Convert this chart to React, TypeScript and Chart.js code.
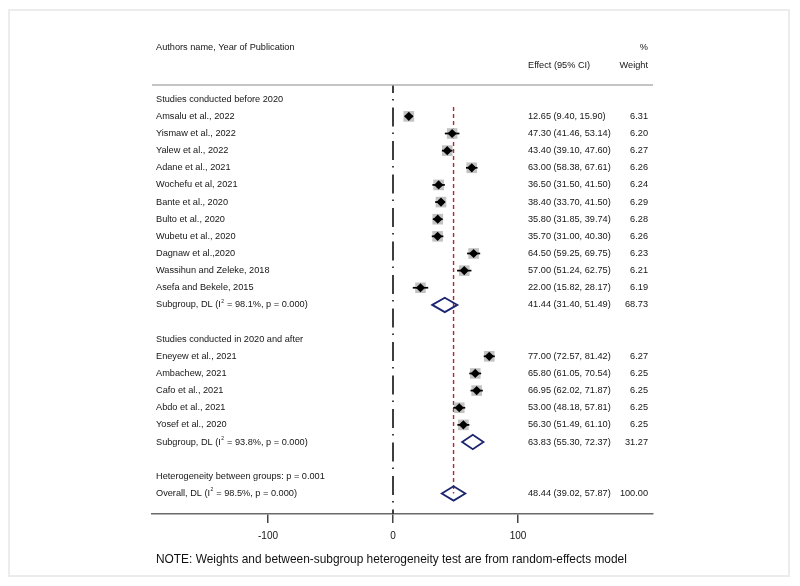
import React, { useEffect, useRef } from "react";
import { Chart, registerables } from "chart.js";

Chart.register(...registerables);

// ---------- data ----------
const groupTitles = ["Studies conducted before 2020", "Studies conducted in 2020 and after"];

const group1Labels = [
  "Amsalu et al., 2022",
  "Yismaw et al., 2022",
  "Yalew et al., 2022",
  "Adane et al., 2021",
  "Wochefu et al, 2021",
  "Bante et al., 2020",
  "Bulto et al., 2020",
  "Wubetu et al., 2020",
  "Dagnaw et al.,2020",
  "Wassihun and Zeleke, 2018",
  "Asefa and Bekele, 2015",
];
const group1Effect = [12.65, 47.3, 43.4, 63.0, 36.5, 38.4, 35.8, 35.7, 64.5, 57.0, 22.0];
const group1Lower = [9.4, 41.46, 39.1, 58.38, 31.5, 33.7, 31.85, 31.0, 59.25, 51.24, 15.82];
const group1Upper = [15.9, 53.14, 47.6, 67.61, 41.5, 41.5, 39.74, 40.3, 69.75, 62.75, 28.17];
const group1Weight = [6.31, 6.2, 6.27, 6.26, 6.24, 6.29, 6.28, 6.26, 6.23, 6.21, 6.19];

const group2Labels = [
  "Eneyew et al., 2021",
  "Ambachew, 2021",
  "Cafo et al., 2021",
  "Abdo et al., 2021",
  "Yosef et al., 2020",
];
const group2Effect = [77.0, 65.8, 66.95, 53.0, 56.3];
const group2Lower = [72.57, 61.05, 62.02, 48.18, 51.49];
const group2Upper = [81.42, 70.54, 71.87, 57.81, 61.1];
const group2Weight = [6.27, 6.25, 6.25, 6.25, 6.25];

const subgroupI2 = ["98.1%", "93.8%"];
const subgroupP = ["0.000", "0.000"];
const subgroupEffect = [41.44, 63.83];
const subgroupLower = [31.4, 55.3];
const subgroupUpper = [51.49, 72.37];
const subgroupWeight = [68.73, 31.27];

const heterogeneityText = "Heterogeneity between groups: p = 0.001";
const overallI2 = "98.5%";
const overallP = "0.000";
const overallEffect = 48.44;
const overallLower = 39.02;
const overallUpper = 57.87;
const overallWeight = 100.0;

const xTicks = [-100, 0, 100];
const noteText = "NOTE: Weights and between-subgroup heterogeneity test are from random-effects model";

// ---------- row building ----------
type Row = {
  kind: "title" | "study" | "pooled" | "text" | "overall";
  label: string;
  y: number;
  est?: number;
  lo?: number;
  hi?: number;
  w?: number;
  i2?: string;
  p?: string;
};

function buildRows(): Row[] {
  const rows: Row[] = [];
  let r = 0;
  const groups = [
    [group1Labels, group1Effect, group1Lower, group1Upper, group1Weight],
    [group2Labels, group2Effect, group2Lower, group2Upper, group2Weight],
  ] as const;
  groups.forEach((g, gi) => {
    rows.push({ kind: "title", label: groupTitles[gi], y: r++ });
    const [labs, eff, lo, hi, w] = g as any;
    labs.forEach((l: string, i: number) => {
      rows.push({ kind: "study", label: l, y: r++, est: eff[i], lo: lo[i], hi: hi[i], w: w[i] });
    });
    rows.push({
      kind: "pooled",
      label: "Subgroup, DL",
      y: r++,
      est: subgroupEffect[gi],
      lo: subgroupLower[gi],
      hi: subgroupUpper[gi],
      w: subgroupWeight[gi],
      i2: subgroupI2[gi],
      p: subgroupP[gi],
    });
    r++; // blank row
  });
  rows.push({ kind: "text", label: heterogeneityText, y: r++ });
  rows.push({
    kind: "overall",
    label: "Overall, DL",
    y: r++,
    est: overallEffect,
    lo: overallLower,
    hi: overallUpper,
    w: overallWeight,
    i2: overallI2,
    p: overallP,
  });
  return rows;
}

const FONT = "'Liberation Sans', Arial, Helvetica, sans-serif";
const TEXT_COLOR = "#151515";
const Y_MIN = -0.83;
const Y_MAX = 24.2;
const X_MIN = -192.8;
const X_MAX = 208;

export default function App() {
  const canvasRef = useRef<HTMLCanvasElement | null>(null);

  useEffect(() => {
    const canvas = canvasRef.current;
    if (!canvas) return;
    const rows = buildRows();
    const studies = rows.filter((r) => r.kind === "study");
    const studyPoints = studies.map((s) => ({ x: s.est as number, y: s.y }));
    const overallRow = rows.find((r) => r.kind === "overall") as Row;
    const firstStudyRow = studies[0].y;

    const fmt = (v: number) => v.toFixed(2);

    const forestPlugin = {
      id: "forest",
      beforeDraw(chart: any) {
        const ctx = chart.ctx as CanvasRenderingContext2D;
        ctx.save();
        ctx.fillStyle = "#ffffff";
        ctx.fillRect(0, 0, chart.width, chart.height);
        ctx.strokeStyle = "#ececec";
        ctx.lineWidth = 2;
        ctx.strokeRect(9, 10, 780, 566);
        ctx.restore();
      },
      afterDatasetsDraw(chart: any) {
        const ctx = chart.ctx as CanvasRenderingContext2D;
        const xs = chart.scales.x;
        const ys = chart.scales.y;
        ctx.save();
        // CI lines for studies
        ctx.strokeStyle = "#000";
        ctx.lineWidth = 1.7;
        studies.forEach((s) => {
          const py = ys.getPixelForValue(s.y);
          ctx.beginPath();
          ctx.moveTo(xs.getPixelForValue(s.lo), py);
          ctx.lineTo(xs.getPixelForValue(s.hi), py);
          ctx.stroke();
        });
        // pooled diamonds
        ctx.strokeStyle = "#1c2570";
        ctx.lineWidth = 1.8;
        rows
          .filter((r) => r.kind === "pooled" || r.kind === "overall")
          .forEach((r) => {
            const py = ys.getPixelForValue(r.y);
            const h = Math.abs(ys.getPixelForValue(r.y + 0.42) - py);
            const xl = xs.getPixelForValue(r.lo);
            const xc = xs.getPixelForValue(r.est);
            const xr = xs.getPixelForValue(r.hi);
            ctx.beginPath();
            ctx.moveTo(xl, py);
            ctx.lineTo(xc, py - h);
            ctx.lineTo(xr, py);
            ctx.lineTo(xc, py + h);
            ctx.closePath();
            ctx.stroke();
          });
        ctx.restore();
      },
      afterDraw(chart: any) {
        const ctx = chart.ctx as CanvasRenderingContext2D;
        const ys = chart.scales.y;
        const area = chart.chartArea;
        ctx.save();
        // header separator line
        ctx.strokeStyle = "#b0b0b0";
        ctx.lineWidth = 1.5;
        ctx.beginPath();
        ctx.moveTo(area.left, area.top);
        ctx.lineTo(area.right, area.top);
        ctx.stroke();

        const labelX = 156;
        const effX = 528;
        const wX = 648;
        ctx.fillStyle = TEXT_COLOR;
        ctx.textBaseline = "middle";
        const f = `9.2px ${FONT}`;
        ctx.font = f;

        // headers
        ctx.textAlign = "left";
        ctx.fillText("Authors name, Year of Publication", labelX, 47);
        ctx.fillText("Effect (95% CI)", effX, 65);
        ctx.textAlign = "right";
        ctx.fillText("%", wX, 47);
        ctx.fillText("Weight", wX, 65);

        const drawI2 = (r: Row, x: number, y: number) => {
          ctx.textAlign = "left";
          ctx.font = f;
          const a = `${r.label} (I`;
          ctx.fillText(a, x, y);
          let cx = x + ctx.measureText(a).width + 0.5;
          ctx.font = `5px ${FONT}`;
          ctx.fillText("2", cx, y - 3.5);
          cx += ctx.measureText("2").width + 0.3;
          ctx.font = f;
          ctx.fillText(` = ${r.i2}, p = ${r.p})`, cx, y);
        };

        rows.forEach((r) => {
          const py = ys.getPixelForValue(r.y);
          ctx.font = f;
          ctx.textAlign = "left";
          if (r.kind === "pooled" || r.kind === "overall") {
            drawI2(r, labelX, py);
          } else {
            ctx.fillText(r.label, labelX, py);
          }
          if (r.est !== undefined) {
            ctx.textAlign = "left";
            ctx.fillText(`${fmt(r.est)} (${fmt(r.lo as number)}, ${fmt(r.hi as number)})`, effX, py);
            ctx.textAlign = "right";
            ctx.fillText(fmt(r.w as number), wX, py);
          }
        });

        // note
        ctx.textAlign = "left";
        ctx.font = `11.9px ${FONT}`;
        ctx.fillStyle = "#111";
        ctx.fillText(noteText, labelX, 560);
        ctx.restore();
      },
    };

    const chart = new Chart(canvas, {
      type: "scatter",
      data: {
        datasets: [
          {
            label: "Study estimate",
            data: studyPoints,
            pointStyle: "rectRot",
            pointRadius: 4.6,
            pointHoverRadius: 4.6,
            backgroundColor: "#000",
            borderWidth: 0,
            order: 0,
          } as any,
          {
            label: "Weight box",
            data: studyPoints,
            pointStyle: "rect",
            pointRadius: studies.map((s) => Math.sqrt(s.w as number) * 3.0),
            pointHoverRadius: studies.map((s) => Math.sqrt(s.w as number) * 3.0),
            backgroundColor: "#c2c2c2",
            borderWidth: 0,
            order: 1,
          } as any,
          {
            type: "line",
            label: "Overall effect",
            data: [
              { x: overallEffect, y: firstStudyRow - 0.55 },
              { x: overallEffect, y: overallRow.y },
            ],
            borderColor: "#b3262e",
            borderWidth: 1.4,
            borderDash: [4, 3],
            pointRadius: 0,
            order: 2,
          } as any,
          {
            type: "line",
            label: "No effect",
            data: [
              { x: 0, y: Y_MIN },
              { x: 0, y: Y_MAX },
            ],
            borderColor: "#2a2a2a",
            borderWidth: 1.8,
            borderDash: [19, 6, 1.5, 7],
            borderDashOffset: 11,
            pointRadius: 0,
            order: 3,
          } as any,
        ],
      },
      options: {
        responsive: false,
        animation: false,
        devicePixelRatio: 1,
        events: [],
        layout: { padding: { left: 152, right: 147, top: 85, bottom: 37 } },
        plugins: {
          legend: { display: false },
          tooltip: { enabled: false },
          title: { display: false },
        },
        scales: {
          x: {
            type: "linear",
            min: X_MIN,
            max: X_MAX,
            afterBuildTicks: (scale: any) => {
              scale.ticks = xTicks.map((v) => ({ value: v }));
            },
            grid: {
              display: true,
              drawOnChartArea: false,
              drawTicks: true,
              tickLength: 9,
              color: "#444",
              lineWidth: 1.5,
            },
            border: { display: true, color: "#6a6a6a", width: 1.6 },
            ticks: {
              padding: 7,
              color: TEXT_COLOR,
              font: { family: FONT, size: 10 },
              callback: (v: any) => String(v),
            },
          },
          y: {
            type: "linear",
            display: false,
            reverse: true,
            min: Y_MIN,
            max: Y_MAX,
          },
        },
      } as any,
      plugins: [forestPlugin],
    });

    return () => chart.destroy();
  }, []);

  return (
    <div style={{ position: "absolute", left: 0, top: 0, width: 800, height: 586, background: "#fff" }}>
      <canvas ref={canvasRef} width={800} height={586} style={{ display: "block" }} />
    </div>
  );
}
